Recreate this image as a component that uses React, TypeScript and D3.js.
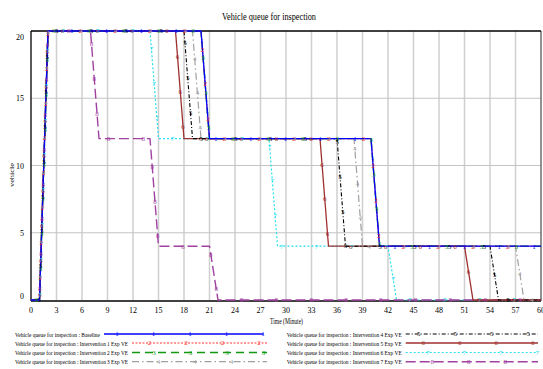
import React from "react";
import * as d3 from "d3";

const title = "Vehicle queue for inspection";
const yLabel = "vehicle";
const xLabel = "Time (Minute)";
const xTicks = [0, 3, 6, 9, 12, 15, 18, 21, 24, 27, 30, 33, 36, 39, 42, 45, 48, 51, 54, 57, 60];
const yTicks = [0, 5, 10, 15, 20];

const names = [
  "Vehicle queue for inspection : Baseline",
  "Vehicle queue for inspection : Intervention 1 Exp VE",
  "Vehicle queue for inspection : Intervention 2 Exp VE",
  "Vehicle queue for inspection : Intervention 3 Exp VE",
  "Vehicle queue for inspection : Intervention 4 Exp VE",
  "Vehicle queue for inspection : Intervention 5 Exp VE",
  "Vehicle queue for inspection : Intervention 6 Exp VE",
  "Vehicle queue for inspection : Intervention 7 Exp VE",
];

// breakpoints of each run (minute, vehicles)
const baselineTime = [0, 1, 2, 20, 21, 40, 41, 60];
const baselineQueue = [0, 0, 20, 20, 12, 12, 4, 4];
const int1Time = [0, 1, 2, 20, 21, 40, 41, 60];
const int1Queue = [0, 0, 20, 20, 12, 12, 4, 4];
const int2Time = [0, 1, 2, 20, 21, 40, 41, 60];
const int2Queue = [0, 0, 20, 20, 12, 12, 4, 4];
const int3Time = [0, 1, 2, 19, 20, 38, 39, 57, 58, 60];
const int3Queue = [0, 0, 20, 20, 12, 12, 4, 4, 0, 0];
const int4Time = [0, 1, 2, 18, 19, 36, 37, 54, 55, 60];
const int4Queue = [0, 0, 20, 20, 12, 12, 4, 4, 0, 0];
const int5Time = [0, 1, 2, 17, 18, 34, 35, 51, 52, 60];
const int5Queue = [0, 0, 20, 20, 12, 12, 4, 4, 0, 0];
const int6Time = [0, 1, 2, 14, 15, 28, 29, 42, 43, 60];
const int6Queue = [0, 0, 20, 20, 12, 12, 4, 4, 0, 0];
const int7Time = [0, 1, 2, 7, 8, 14, 15, 21, 22, 60];
const int7Queue = [0, 0, 20, 20, 12, 12, 4, 4, 0, 0];

const times = [baselineTime, int1Time, int2Time, int3Time, int4Time, int5Time, int6Time, int7Time];
const queues = [baselineQueue, int1Queue, int2Queue, int3Queue, int4Queue, int5Queue, int6Queue, int7Queue];

const colors = ["#0000ff", "#ff3030", "#119911", "#a0a0a0", "#000000", "#a03030", "#22e0ee", "#a040a0"];
const dashes = [null, "2,1.5", "8,5", "7,3,1.5,3", "4,2,1,2", null, "2,2", "10,4"];
const widths = [1.3, 1.1, 1.4, 1.2, 1.1, 1.3, 1.2, 1.4];
const markOffset = [22.9, 31.4, 5.1, 32, 8, 13.6, 14.3, 20];
const drawOrder = [6, 7, 3, 5, 4, 2, 1, 0];

const W = 543;
const H = 369;
const serif = "'Liberation Serif', 'Times New Roman', serif";

function alongPath(pts: [number, number][], offset: number, step: number) {
  const out: [number, number][] = [];
  let next = offset;
  let acc = 0;
  for (let i = 1; i < pts.length; i++) {
    const [x0, y0] = pts[i - 1];
    const [x1, y1] = pts[i];
    const len = Math.hypot(x1 - x0, y1 - y0);
    while (next <= acc + len && len > 0) {
      const f = (next - acc) / len;
      out.push([x0 + (x1 - x0) * f, y0 + (y1 - y0) * f]);
      next += step;
    }
    acc += len;
  }
  return out;
}

export default function App() {
  const x = d3.scaleLinear().domain([0, 60]).range([31, 541]);
  const y = d3.scaleLinear().domain([0, 20]).range([300, 31]);

  const line = d3
    .line<[number, number]>()
    .x((d) => x(d[0]))
    .y((d) => y(d[1]));

  const data = times.map((ts, i) => ts.map((t, j) => [t, queues[i][j]] as [number, number]));

  // legend layout
  const legendRows = [334, 343, 352.5, 361.7];
  const legend = names.map((n, i) => {
    const left = i < 4;
    const row = legendRows[i % 4];
    const tx = left ? 15 : 286.7;
    const tw = left ? (i === 0 ? 85 : 113) : 115;
    const lx0 = tx + tw + 4;
    const lx1 = left ? (i === 0 ? 263.5 : 267) : 538;
    return { n, i, row, tx, tw, lx0, lx1 };
  });

  return (
    <svg
      width={W}
      height={H}
      style={{ position: "absolute", left: 0, top: 0, background: "#fff" }}
    >
      <text
        x={269}
        y={19.5}
        textAnchor="middle"
        fontFamily={serif}
        fontSize={10.5}
        textLength={94}
        lengthAdjust="spacingAndGlyphs"
      >
        {title}
      </text>

      {/* grid */}
      {xTicks.slice(1, -1).map((t) => (
        <line key={"gx" + t} x1={x(t)} x2={x(t)} y1={y(20)} y2={y(0)} stroke="#cfcfcf" strokeWidth={1.5} />
      ))}
      {yTicks.slice(1, -1).map((v) => (
        <line key={"gy" + v} x1={x(0)} x2={x(60)} y1={y(v)} y2={y(v)} stroke="#c4c4c4" strokeWidth={1.2} />
      ))}
      <line x1={x(60)} x2={x(60)} y1={y(20)} y2={y(0) + 1} stroke="#555" strokeWidth={1.3} />
      <line x1={x(0)} x2={x(60)} y1={y(20)} y2={y(20)} stroke="#000" strokeWidth={1.3} />
      <line x1={x(0)} x2={x(0)} y1={y(20)} y2={y(0) + 1} stroke="#000" strokeWidth={1.3} />
      <line x1={x(0)} x2={x(60)} y1={y(0) + 1} y2={y(0) + 1} stroke="#000" strokeWidth={1.3} />

      {/* tick labels */}
      {yTicks.map((v) => (
        <text
          key={"yl" + v}
          x={24}
          y={Math.min(Math.max(y(v) + 3, 39.5), 299)}
          textAnchor="end"
          fontFamily={serif}
          fontSize={8}
        >
          {v}
        </text>
      ))}
      {xTicks.map((t) => (
        <text key={"xl" + t} x={x(t)} y={313} textAnchor="middle" fontFamily={serif} fontSize={8}>
          {t}
        </text>
      ))}
      <text
        x={270}
        y={324}
        fontFamily={serif}
        fontSize={7.5}
        textLength={33}
        lengthAdjust="spacingAndGlyphs"
      >
        {xLabel}
      </text>
      <text
        transform="translate(13.5,175) rotate(-90)"
        textAnchor="middle"
        fontFamily={serif}
        fontSize={7}
        textLength={24}
        lengthAdjust="spacingAndGlyphs"
      >
        {yLabel}
      </text>

      {/* series */}
      {drawOrder.map((i) => (
        <path
          key={"s" + i}
          d={line(data[i]) || ""}
          fill="none"
          stroke={colors[i]}
          strokeWidth={widths[i]}
          strokeDasharray={dashes[i] || undefined}
        />
      ))}
      {data.map((d, i) =>
        alongPath(
          d.map((p) => [x(p[0]), y(p[1])] as [number, number]),
          markOffset[i],
          34.8
        ).map((p, k) => (
          <text
            key={"m" + i + "-" + k}
            x={p[0]}
            y={p[1] + 2.4}
            textAnchor="middle"
            fontFamily={serif}
            fontSize={7}
            fill={colors[i]}
          >
            {i + 1}
          </text>
        ))
      )}

      {/* legend */}
      {legend.map((l) => (
        <g key={"lg" + l.i}>
          <text
            x={l.tx}
            y={l.row + 2.5}
            fontFamily={serif}
            fontSize={7}
            textLength={l.tw}
            lengthAdjust="spacingAndGlyphs"
          >
            {l.n}
          </text>
          <line
            x1={l.lx0}
            x2={l.lx1}
            y1={l.row}
            y2={l.row}
            stroke={colors[l.i]}
            strokeWidth={widths[l.i]}
            strokeDasharray={dashes[l.i] || undefined}
          />
          {d3.range(l.lx0 + 13 + (l.i % 4) * 4.5, l.lx1 + 1, 36.5).map((mx, k) => (
            <text
              key={k}
              x={mx}
              y={l.row + 2.4}
              textAnchor="middle"
              fontFamily={serif}
              fontSize={7}
              fill={colors[l.i]}
            >
              {l.i + 1}
            </text>
          ))}
        </g>
      ))}
    </svg>
  );
}
